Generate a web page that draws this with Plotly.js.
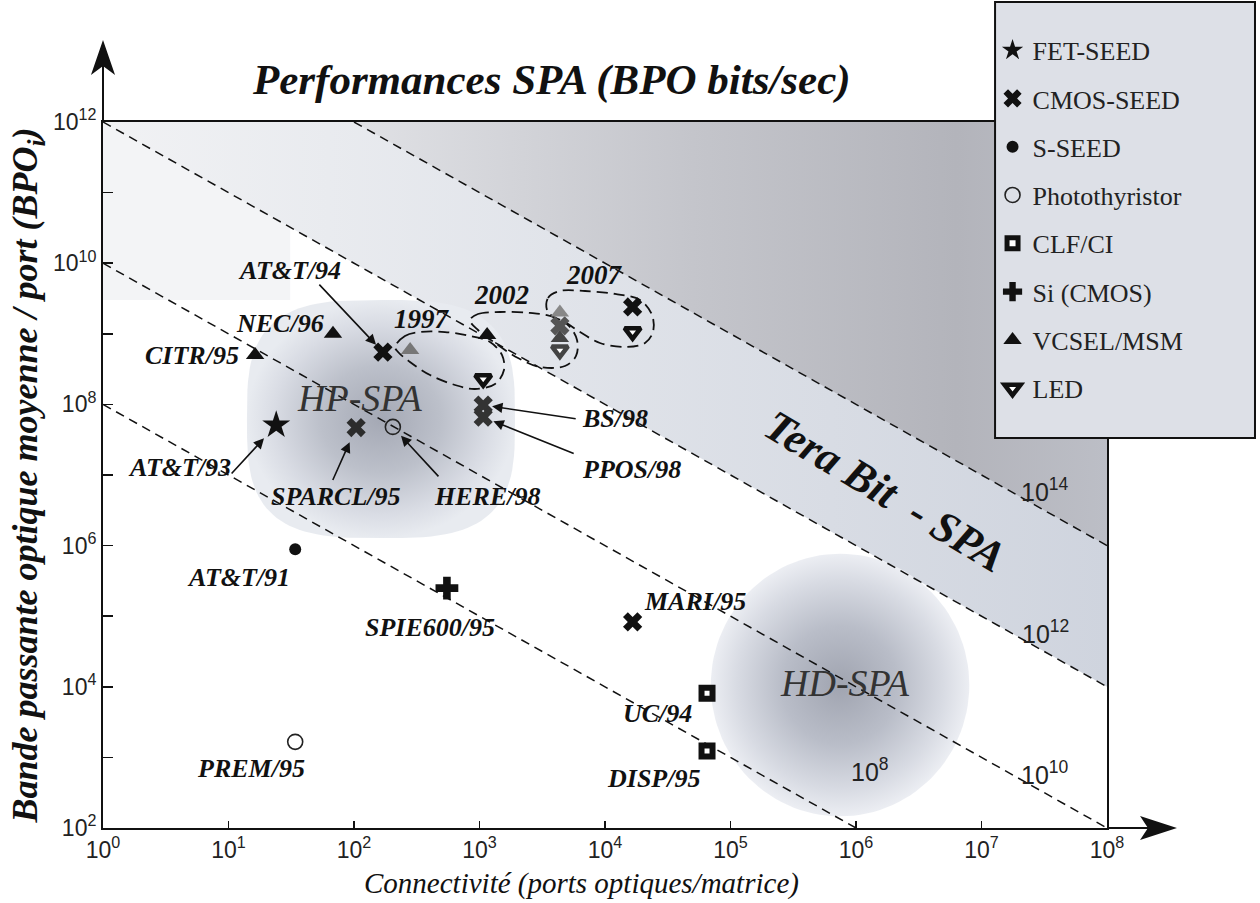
<!DOCTYPE html>
<html><head><meta charset="utf-8">
<script src="https://cdn.plot.ly/plotly-3.0.1.min.js"></script>
<style>html,body{margin:0;padding:0;background:#fff;} #chart{width:1260px;height:903px;}</style>
</head><body><div id="chart"></div>
<script>
// ================= DATA =================
const xTickVals = [1, 10, 100, 1e3, 1e4, 1e5, 1e6, 1e7, 1e8];
const xTickText = ['10<sup>0</sup>','10<sup>1</sup>','10<sup>2</sup>','10<sup>3</sup>','10<sup>4</sup>','10<sup>5</sup>','10<sup>6</sup>','10<sup>7</sup>','10<sup>8</sup>'];
const yTickVals = [1e2, 1e3, 1e4, 1e5, 1e6, 1e7, 1e8, 1e9, 1e10, 1e11, 1e12];
const yTickText = ['10<sup>2</sup>','','10<sup>4</sup>','','10<sup>6</sup>','','10<sup>8</sup>','','10<sup>10</sup>','','10<sup>12</sup>'];

// iso-bandwidth lines (connectivity x BPO = constant)
const isoProducts = [1e8, 1e10, 1e12, 1e14];
const isoLabels = ['10<sup>8</sup>','10<sup>10</sup>','10<sup>12</sup>','10<sup>14</sup>'];

// series
const fetSeedX = [24];
const fetSeedY = [5.1e7];
const fetSeedLabels = ['AT&amp;T/93'];

const cmosSeedX = [170, 104, 1070, 1070, 16600, 16600, 4370];
const cmosSeedY = [5.5e8, 4.7e7, 9.8e7, 6.6e7, 2.4e9, 8.3e4, 1.3e9];
const cmosSeedLabels = ['AT&amp;T/94', 'SPARCL/95', 'BS/98', 'PPOS/98', '', 'MARI/95', ''];

const sSeedX = [34];
const sSeedY = [8.9e5];
const sSeedLabels = ['AT&amp;T/91'];

const photoX = [204, 34];
const photoY = [4.8e7, 1660];
const photoLabels = ['HERE/98', 'PREM/95'];

const clfX = [65000, 65000];
const clfY = [8100, 1230];
const clfLabels = ['UC/94', 'DISP/95'];

const siCmosX = [550];
const siCmosY = [2.5e5];
const siCmosLabels = ['SPIE600/95'];

const vcselX = [16.3, 68, 280, 1150, 4370, 4370];
const vcselY = [5.0e8, 1.0e9, 5.9e8, 9.6e8, 2.0e9, 8.7e8];
const vcselLabels = ['CITR/95', 'NEC/96', '', '', '', ''];

const ledX = [1070, 4370, 16600];
const ledY = [2.3e8, 5.9e8, 1.07e9];

// projection groups (dashed loops), exponents of 10
const loopYears = ['1997', '2002', '2007'];
const loop1997X = [2.327,2.406,2.526,2.725,2.924,3.084,3.179,3.195,3.124,2.964,2.805,2.606,2.446,2.351,2.327];
const loop1997Y = [8.813,8.969,9.025,9.025,8.969,8.884,8.700,8.487,8.289,8.218,8.275,8.416,8.601,8.742,8.813];
const loop2002X = [2.924,2.988,3.163,3.402,3.562,3.705,3.777,3.769,3.681,3.482,3.307,3.124,2.988,2.924];
const loop2002Y = [9.195,9.280,9.309,9.295,9.252,9.125,8.912,8.686,8.544,8.530,8.657,8.870,9.054,9.195];
const loop2007X = [3.538,3.546,3.641,3.841,4.080,4.279,4.375,4.382,4.319,4.159,3.960,3.801,3.681,3.578,3.538];
const loop2007Y = [9.337,9.507,9.606,9.606,9.564,9.479,9.266,9.025,8.870,8.813,8.870,9.025,9.167,9.252,9.337];

// ================= STYLE / LAYOUT =================
const INK = '#111';
const serif = 'Liberation Serif';
const sans = 'Liberation Sans';
const L = Math.log10;
const pw = v => v.map(e => Math.pow(10, e));

const traces = [];

// background shading
traces.push({x:[1, 31, 31, 1, 1], y:[3e9, 3e9, 1e12, 1e12, 3e9], mode:'lines', fill:'toself',
  fillcolor:'#f3f4f6', line:{width:0}, showlegend:false, hoverinfo:'skip'});
function regionAbove(P){
  const x0 = Math.max(1, P/1e12), x1 = 1e8;
  return {x:[x0, x1, x1, x0], y:[P/x0, P/x1, 1e12, P/x0]};
}
const r12 = regionAbove(isoProducts[2]);
traces.push({x:r12.x, y:r12.y, mode:'lines', fill:'toself', line:{width:0},
  fillgradient:{type:'horizontal', colorscale:[[0,'#f1f2f4'],[0.45,'#e1e4ea'],[1,'#cfd4de']]},
  showlegend:false, hoverinfo:'skip'});
const r14 = regionAbove(isoProducts[3]);
traces.push({x:r14.x, y:r14.y, mode:'lines', fill:'toself', line:{width:0},
  fillgradient:{type:'horizontal', colorscale:[[0,'#e0e1e5'],[0.45,'#c4c5cb'],[0.8,'#b3b4bb'],[1,'#bcbec6']]},
  showlegend:false, hoverinfo:'skip'});

function blob(cx, cy, rx, ry, p){
  const xs = [], ys = [];
  for(let k = 0; k <= 120; k++){
    const t = 2*Math.PI*k/120, c = Math.cos(t), s = Math.sin(t);
    xs.push(cx + rx*Math.sign(c)*Math.pow(Math.abs(c), 2/p));
    ys.push(cy + ry*Math.sign(s)*Math.pow(Math.abs(s), 2/p));
  }
  return {x: pw(xs), y: pw(ys)};
}
const hp = blob(2.215, 7.793, 1.068, 1.686, 3.2);
traces.push({x:hp.x, y:hp.y, mode:'lines', fill:'toself', line:{width:0},
  fillgradient:{type:'radial', colorscale:[[0,'#a4a8b4'],[0.45,'#bcc0ca'],[0.8,'#d9dce4'],[1,'#e8ebf0']]},
  showlegend:false, hoverinfo:'skip'});
const hd = blob(5.873, 4.025, 1.03, 1.86, 2);
traces.push({x:hd.x, y:hd.y, mode:'lines', fill:'toself', line:{width:0},
  fillgradient:{type:'radial', colorscale:[[0,'#a0a4b0'],[0.45,'#b9bdc8'],[0.8,'#d8dbe3'],[1,'#eceef3']]},
  showlegend:false, hoverinfo:'skip'});

// iso lines
isoProducts.forEach(P => {
  const x0 = Math.max(1, P/1e12), x1 = Math.min(1e8, P/1e2);
  traces.push({x:[x0, x1], y:[P/x0, P/x1], mode:'lines',
    line:{color:INK, width:1.5, dash:'9px,6px'}, showlegend:false, hoverinfo:'skip'});
});

// projection loops
[[loop1997X, loop1997Y],[loop2002X, loop2002Y],[loop2007X, loop2007Y]].forEach(([lx, ly]) => {
  traces.push({x:pw(lx), y:pw(ly), mode:'lines', line:{color:INK, width:1.8, dash:'11px,6px', shape:'spline', smoothing:1},
    showlegend:false, hoverinfo:'skip'});
});

// series
const series = [
  {name:'FET-SEED', x:fetSeedX, y:fetSeedY, marker:{symbol:'star', size:21, color:INK}},
  {name:'CMOS-SEED', x:cmosSeedX, y:cmosSeedY, marker:{symbol:'x', size:17, color:[INK,'#2c2c2c','#333','#333',INK,INK,'#555']}},
  {name:'S-SEED', x:sSeedX, y:sSeedY, marker:{symbol:'circle', size:12, color:INK}},
  {name:'Photothyristor', x:photoX, y:photoY, marker:{symbol:'circle-open', size:15, color:'#222', line:{width:1.6}}},
  {name:'CLF/CI', x:clfX, y:clfY, marker:{symbol:'square', size:11, color:'#fff', line:{color:INK, width:6}}},
  {name:'Si (CMOS)', x:siCmosX, y:siCmosY, marker:{symbol:'cross', size:19, color:INK}},
  {name:'VCSEL/MSM', x:vcselX, y:vcselY, marker:{symbol:'triangle-up', size:16, color:[INK,INK,'#777',INK,'#888','#444']}},
  {name:'LED', x:ledX, y:ledY, marker:{symbol:'triangle-down', size:14, color:'#fff', line:{color:[INK,'#444',INK], width:4.5}}}
];
series.forEach((s, i) => {
  traces.push({x:s.x, y:s.y, name:s.name, mode:'markers', marker:s.marker, legendgroup:'g'+i,
    hoverinfo:'x+y+name', cliponaxis:false});
});

// label placement (pixel offsets from the point)
const labelStyle = {
  'AT&amp;T/93': {dx:-97, dy:42, arrow:[-46, 50, 18]},
  'AT&amp;T/94': {dx:-93, dy:-82, arrow:[-65, -69, 10]},
  'SPARCL/95': {dx:-20, dy:69, arrow:[-24, 54, 16]},
  'BS/98': {dx:132, dy:13, arrow:[94, 14, 9]},
  'PPOS/98': {dx:148, dy:52, arrow:[92, 37, 11]},
  'MARI/95': {dx:62, dy:-20},
  'AT&amp;T/91': {dx:-57, dy:28},
  'HERE/98': {dx:94, dy:70, arrow:[47, 51, 12]},
  'PREM/95': {dx:-44, dy:27},
  'UC/94': {dx:-50, dy:20},
  'DISP/95': {dx:-54, dy:27},
  'SPIE600/95': {dx:-17, dy:39},
  'CITR/95': {dx:-63, dy:0},
  'NEC/96': {dx:-53, dy:-10}
};
const annotations = [];
const labelled = [[fetSeedX, fetSeedY, fetSeedLabels],[cmosSeedX, cmosSeedY, cmosSeedLabels],[sSeedX, sSeedY, sSeedLabels],
  [photoX, photoY, photoLabels],[clfX, clfY, clfLabels],[siCmosX, siCmosY, siCmosLabels],[vcselX, vcselY, vcselLabels]];
labelled.forEach(([xs, ys, ls]) => {
  ls.forEach((t, i) => {
    if(!t) return;
    const st = labelStyle[t];
    annotations.push({x:L(xs[i]), y:L(ys[i]), xref:'x', yref:'y', text:'<b><i>'+t+'</i></b>', showarrow:false,
      xshift:st.dx, yshift:-st.dy, font:{family:serif, size:26, color:INK}});
    if(st.arrow){
      annotations.push({x:L(xs[i]), y:L(ys[i]), xref:'x', yref:'y', text:'', showarrow:true,
        ax:st.arrow[0], ay:st.arrow[1], standoff:st.arrow[2], arrowhead:2, arrowsize:1.3, arrowwidth:1.6, arrowcolor:INK});
    }
  });
});
// year labels above their loops
const yearPos = [[2.542, 9.21],[3.179, 9.55],[3.92, 9.833]];
loopYears.forEach((t, i) => annotations.push({x:yearPos[i][0], y:yearPos[i][1], xref:'x', yref:'y', text:'<b><i>'+t+'</i></b>',
  showarrow:false, font:{family:serif, size:27, color:INK}}));
// iso line labels
const isoLabelPos = [[6.112, 2.822],[7.506, 2.779],[7.506, 4.776],[7.506, 6.788]];
isoLabels.forEach((t, i) => annotations.push({x:isoLabelPos[i][0], y:isoLabelPos[i][1], xref:'x', yref:'y', text:t,
  showarrow:false, font:{family:sans, size:25, color:'#222'}}));
// region labels
annotations.push({x:2.048, y:8.09, xref:'x', yref:'y', text:'<i>HP-SPA</i>', showarrow:false, font:{family:serif, size:38, color:'#333'}});
annotations.push({x:5.912, y:4.054, xref:'x', yref:'y', text:'<i>HD-SPA</i>', showarrow:false, font:{family:serif, size:38, color:'#333'}});
annotations.push({x:6.231, y:6.76, xref:'x', yref:'y', text:'<b><i>Tera Bit  - SPA</i></b>', showarrow:false, textangle:31,
  font:{family:serif, size:44, color:INK}});
// x axis title (placed slightly left of the plot centre, as in the figure)
annotations.push({x:0.477, y:-0.0785, xref:'paper', yref:'paper', xanchor:'center', yanchor:'middle', showarrow:false,
  text:'<i>Connectivité (ports optiques/matrice)</i>', font:{family:serif, size:29, color:INK}});

const shapes = [
  // axis arrows
  {type:'line', xref:'paper', yref:'paper', x0:1, x1:1.05, y0:0, y1:0, line:{color:INK, width:2}},
  {type:'path', xref:'paper', yref:'paper', path:'M 1.0697 0 L 1.0329 0.017 L 1.0408 0 L 1.0329 -0.017 Z', fillcolor:INK, line:{width:0}},
  {type:'line', xref:'paper', yref:'paper', x0:0, x1:0, y0:1, y1:1.1, line:{color:INK, width:2}},
  {type:'path', xref:'paper', yref:'paper', path:'M 0 1.116 L 0.012 1.0666 L 0 1.0793 L -0.012 1.0666 Z', fillcolor:INK, line:{width:0}},
  // legend frame
  {type:'rect', xref:'paper', yref:'paper', x0:0.8885, x1:1.1474, y0:0.5524, y1:1.170, fillcolor:'#dde0e7', line:{color:INK, width:2}, layer:'above'}
];

const axisCommon = {type:'log', showline:true, linecolor:INK, linewidth:2, mirror:true, ticks:'inside', tickcolor:INK,
  tickwidth:1.5, showgrid:false, zeroline:false, tickfont:{family:sans, size:23, color:'#222'}};

const layout = {
  width:1260, height:903,
  margin:{l:103, r:153, t:122, b:75, autoexpand:false},
  paper_bgcolor:'#fff', plot_bgcolor:'#fff',
  title:{text:'<b><i>Performances SPA (BPO bits/sec)</i></b>', font:{family:serif, size:43, color:INK},
    x:0.447, xref:'paper', xanchor:'center', y:0.913, yref:'container', yanchor:'middle'},
  xaxis:Object.assign({}, axisCommon, {range:[0, 8], ticklen:7, tickvals:xTickVals, ticktext:xTickText}),
  yaxis:Object.assign({}, axisCommon, {range:[2, 12], ticklen:10, tickvals:yTickVals, ticktext:yTickText,
    title:{text:'<b><i>Bande passante optique moyenne / port (BPO<sub>i</sub>)</i></b>', font:{family:serif, size:36, color:INK}, standoff:4}}),
  showlegend:true,
  legend:{x:0.886, xanchor:'left', y:1.135, yanchor:'top', bgcolor:'rgba(0,0,0,0)', borderwidth:0,
    font:{family:serif, size:26, color:'#222'}, tracegroupgap:11.5, traceorder:'grouped'},
  shapes:shapes,
  annotations:annotations
};

Plotly.newPlot('chart', traces, layout, {displayModeBar:false, staticPlot:true});
</script>
</body></html>
